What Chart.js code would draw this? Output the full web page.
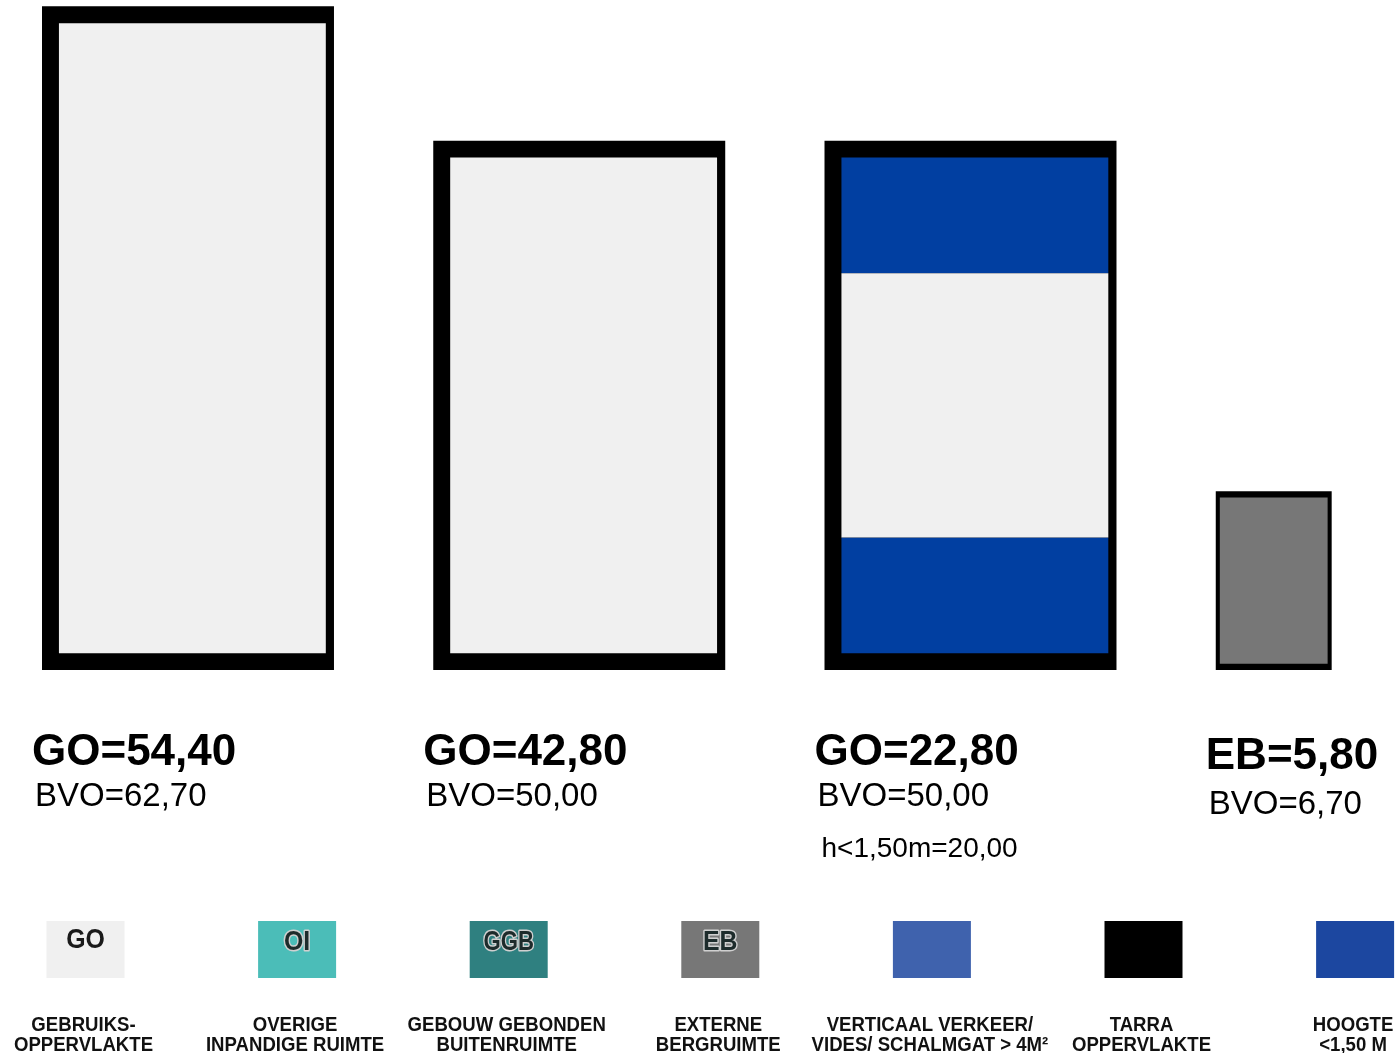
<!DOCTYPE html>
<html>
<head>
<meta charset="utf-8">
<style>
  html, body { margin: 0; padding: 0; background: #fff; }
  #wrap { width: 1400px; height: 1053px; position: relative; }
</style>
</head>
<body>
<div id="wrap"><canvas id="chart"></canvas></div>

<script src="https://cdn.jsdelivr.net/npm/chart.js"></script>

<script>
  // oppervlaktes in m2 per blok
  const blokken = ['Blok 1', 'Blok 2', 'Blok 3', 'Berging'];
  const soort = ['GO', 'GO', 'GO', 'EB'];
  const goWaarden = [54.40, 42.80, 22.80, 5.80];
  const bvoWaarden = [62.70, 50.00, 50.00, 6.70];
  const laagWaarden = [0, 0, 20.00, 0]; // h < 1,50 m

  // legenda
  const legendaCodes = ['GO', 'OI', 'GGB', 'EB', '', '', ''];
  const legendaTeksten = [
    ['GEBRUIKS-', 'OPPERVLAKTE'],
    ['OVERIGE', 'INPANDIGE RUIMTE'],
    ['GEBOUW GEBONDEN', 'BUITENRUIMTE'],
    ['EXTERNE', 'BERGRUIMTE'],
    ['VERTICAAL VERKEER/', 'VIDES/ SCHALMGAT > 4M²'],
    ['TARRA', 'OPPERVLAKTE'],
    ['HOOGTE', '<1,50 M']
  ];

  // opmaak
  const legendaKleuren = ['#f0f0f0', '#4bbdb8', '#2f8080', '#777777', '#3f62ad', '#000000', '#1c47a0'];
  const GRIJS = '#f0f0f0';
  const BLAUW = '#013fa1';
  const ZWART = '#000000';
  const EBGRIJS = '#777777';
  const blokSchaal = [1, 1, 1, 0.397];   // relatieve breedte van elk blok
  const binnenSchaal = [0.914, 0.914, 0.914, 0.93];
  const TUSSENRUIMTE = 0.34;             // gat tussen blokken (in blokbreedtes)
  const XMAX = 4.651;
  const BINNEN_SCHUIF = 0.015;           // binnenvlak iets naar rechts (dikkere rand links)
  const FONT = '"Liberation Sans", Arial, sans-serif';

  const fmt = v => v.toFixed(2).replace('.', ',');

  // plaats van de blokken: naast elkaar met een vast gat
  const midden = [];
  let pos = 0;
  blokSchaal.forEach(w => { midden.push(pos + w / 2); pos += w + TUSSENRUIMTE; });
  let minAfstand = Infinity;
  for (let i = 1; i < midden.length; i++) minAfstand = Math.min(minAfstand, midden[i] - midden[i - 1]);

  // hoogte = oppervlak / breedte
  const buiten = [], binnen = [], laagOnder = [], laagBoven = [];
  blokken.forEach((b, i) => {
    const w = blokSchaal[i];
    const hBuiten = bvoWaarden[i] / w;
    const wBinnen = w * binnenSchaal[i];
    const hBinnen = (goWaarden[i] + laagWaarden[i]) / wBinnen;
    const m = (hBuiten - hBinnen) / 2;
    const hLaag = laagWaarden[i] / 2 / wBinnen;
    const x = midden[i];
    buiten.push({ x, y: [0, hBuiten] });
    laagOnder.push(hLaag ? { x, y: [m, m + hLaag] } : null);
    binnen.push({ x, y: [m + hLaag, m + hBinnen - hLaag] });
    laagBoven.push(hLaag ? { x, y: [m + hBinnen - hLaag, m + hBinnen] } : null);
  });

  const isEB = i => soort[i] === 'EB';
  const alleen = (arr, eb) => arr.filter((v, i) => v && isEB(i) === eb);

  const tekstPlugin = {
    id: 'teksten',
    afterDraw(chart) {
      const ctx = chart.ctx;
      const onder = chart.chartArea.bottom;
      const sx = chart.scales.x;
      ctx.save();
      ctx.fillStyle = '#000';
      ctx.textAlign = 'left';
      ctx.textBaseline = 'alphabetic';
      blokken.forEach((b, i) => {
        const links = sx.getPixelForValue(midden[i] - blokSchaal[i] / 2);
        const dy = isEB(i) ? 4 : 0;
        ctx.font = 'bold 44px ' + FONT;
        ctx.fillText(soort[i] + '=' + fmt(goWaarden[i]), links - 10, onder + 95 + dy);
        ctx.font = '33px ' + FONT;
        ctx.fillText('BVO=' + fmt(bvoWaarden[i]), links - 7, onder + 136 + dy * 2);
        if (laagWaarden[i]) {
          ctx.font = '28px ' + FONT;
          ctx.fillText('h<1,50m=' + fmt(laagWaarden[i]), links - 3, onder + 187);
        }
      });

      // legenda onderaan
      legendaCodes.forEach((code, i) => {
        const cx = 85.5 + i * 211.6;
        ctx.fillStyle = legendaKleuren[i];
        ctx.fillRect(cx - 39, 921, 78, 57);
        if (code) {
          ctx.save();
          ctx.translate(cx, 0);
          ctx.scale(code.length > 2 ? 0.82 : 0.92, 1);
          ctx.font = 'bold 27px ' + FONT;
          ctx.textAlign = 'center';
          if (i === 0) {
            ctx.fillStyle = '#1a1a1a';
            ctx.fillText(code, 0, 948);
          } else {
            ctx.lineWidth = 3;
            ctx.lineJoin = 'round';
            ctx.strokeStyle = '#d0d0d0';
            ctx.strokeText(code, 0, 950);
            ctx.fillStyle = '#1d2b2b';
            ctx.fillText(code, 0, 950);
          }
          ctx.restore();
        }
        ctx.save();
        ctx.translate(cx - 2, 0);
        ctx.scale(0.885, 1);
        ctx.fillStyle = '#111';
        ctx.textAlign = 'center';
        ctx.font = 'bold 21px ' + FONT;
        ctx.fillText(legendaTeksten[i][0], 0, 1031);
        ctx.fillText(legendaTeksten[i][1], 0, 1051);
        ctx.restore();
      });
      ctx.restore();
    }
  };

  const ctx = document.getElementById('chart');
  const gemeen = { grouped: false, borderWidth: 0, categoryPercentage: 1, clip: false };
  const breedte = w => w / minAfstand;
  const xAs = (min, max) => ({
    type: 'linear', min, max, offset: false, bounds: 'data',
    display: false, grid: { display: false, offset: false },
    afterBuildTicks: s => { s.ticks = midden.map(v => ({ value: v })); }
  });

  new Chart(ctx, {
    type: 'bar',
    data: {
      datasets: [
        Object.assign({ label: 'GO', data: alleen(binnen, false), backgroundColor: GRIJS,
          barPercentage: breedte(binnenSchaal[0]), order: 0, xAxisID: 'xb' }, gemeen),
        Object.assign({ label: 'h<1,50m onder', data: alleen(laagOnder, false), backgroundColor: BLAUW,
          barPercentage: breedte(binnenSchaal[0]), order: 0, xAxisID: 'xb' }, gemeen),
        Object.assign({ label: 'h<1,50m boven', data: alleen(laagBoven, false), backgroundColor: BLAUW,
          barPercentage: breedte(binnenSchaal[0]), order: 0, xAxisID: 'xb' }, gemeen),
        Object.assign({ label: 'EB', data: alleen(binnen, true), backgroundColor: EBGRIJS,
          barPercentage: breedte(blokSchaal[3] * binnenSchaal[3]), order: 0, xAxisID: 'x' }, gemeen),
        Object.assign({ label: 'Tarra', data: alleen(buiten, false), backgroundColor: ZWART,
          barPercentage: breedte(1), order: 1, xAxisID: 'x' }, gemeen),
        Object.assign({ label: 'Tarra EB', data: alleen(buiten, true), backgroundColor: ZWART,
          barPercentage: breedte(blokSchaal[3]), order: 1, xAxisID: 'x' }, gemeen)
      ]
    },
    options: {
      responsive: true,
      maintainAspectRatio: false,
      animation: false,
      layout: { padding: { left: 42, right: 0, top: 0, bottom: 383 } },
      scales: {
        x: xAs(0, XMAX),
        xb: xAs(-BINNEN_SCHUIF, XMAX - BINNEN_SCHUIF),
        y: { min: 0, max: 63.3, display: false, grid: { display: false } }
      },
      plugins: {
        legend: { display: false },
        tooltip: { enabled: false }
      }
    },
    plugins: [tekstPlugin]
  });
</script>
</body>
</html>
